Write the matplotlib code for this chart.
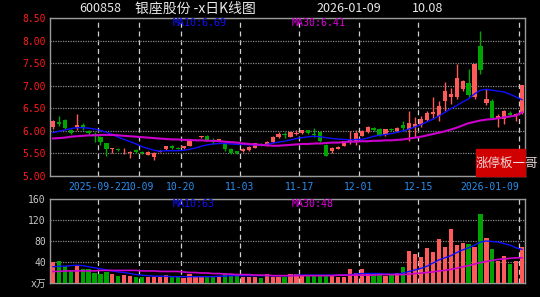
import matplotlib
matplotlib.use("Agg")
import matplotlib.pyplot as plt
from matplotlib.patches import Rectangle
import numpy as np

plt.rcParams['font.family'] = ['DejaVu Sans Mono', 'Noto Sans CJK SC']

# daily candles, 2025-09-10 .. 2026-01-09 (80 trading days)
opens = [6.08, 6.19, 6.25, 6.02, 6.08, 6.14, 5.99, 5.93, 5.87, 5.72,
         5.59, 5.60, 5.55, 5.52, 5.58, 5.54, 5.47, 5.41, 5.54, 5.60,
         5.66, 5.63, 5.62, 5.67, 5.81, 5.86, 5.88, 5.80, 5.78, 5.74,
         5.60, 5.55, 5.56, 5.58, 5.63, 5.71, 5.69, 5.75, 5.87, 5.93,
         5.87, 5.93, 5.95, 6.01, 5.93, 5.97, 5.69, 5.55, 5.60, 5.67,
         5.77, 5.75, 5.89, 5.97, 6.07, 6.05, 5.90, 6.05, 6.00, 6.12,
         6.04, 6.09, 6.12, 6.23, 6.38, 6.32, 6.66, 6.75, 6.76, 6.92,
         7.05, 6.74, 7.88, 6.61, 6.67, 6.27, 6.27, 6.40, 6.32, 6.40]
highs = [6.24, 6.32, 6.27, 6.04, 6.38, 6.17, 6.02, 5.97, 5.88, 5.73,
         5.63, 5.62, 5.63, 5.56, 5.60, 5.55, 5.55, 5.53, 5.57, 5.67,
         5.68, 5.65, 5.67, 5.79, 5.83, 5.89, 5.90, 5.84, 5.83, 5.75,
         5.62, 5.56, 5.61, 5.66, 5.73, 5.72, 5.77, 5.88, 5.97, 5.97,
         5.98, 6.02, 6.02, 6.02, 6.06, 5.98, 5.70, 5.64, 5.66, 5.78,
         6.00, 6.03, 6.02, 6.10, 6.09, 6.06, 6.05, 6.07, 6.09, 6.22,
         6.45, 6.30, 6.32, 6.45, 6.75, 6.67, 7.08, 6.95, 7.49, 7.12,
         7.36, 7.48, 8.22, 6.92, 6.70, 6.38, 6.46, 6.45, 6.40, 7.01]
lows = [6.05, 6.10, 6.05, 5.93, 6.03, 6.03, 5.90, 5.75, 5.68, 5.45,
        5.52, 5.55, 5.49, 5.40, 5.52, 5.48, 5.46, 5.35, 5.53, 5.58,
        5.60, 5.59, 5.60, 5.66, 5.79, 5.85, 5.79, 5.71, 5.77, 5.56,
        5.48, 5.49, 5.54, 5.56, 5.61, 5.67, 5.67, 5.74, 5.84, 5.84,
        5.86, 5.90, 5.94, 5.94, 5.87, 5.75, 5.44, 5.50, 5.59, 5.66,
        5.70, 5.68, 5.88, 5.95, 6.00, 5.88, 5.88, 5.99, 5.98, 6.00,
        5.78, 5.86, 6.08, 6.21, 6.26, 6.22, 6.45, 6.60, 6.70, 6.88,
        6.76, 6.70, 7.27, 6.58, 6.26, 6.08, 6.15, 6.33, 6.22, 6.38]
closes = [6.21, 6.16, 6.07, 5.96, 6.14, 6.07, 5.95, 5.89, 5.75, 5.60,
          5.62, 5.58, 5.56, 5.53, 5.54, 5.50, 5.54, 5.52, 5.56, 5.66,
          5.62, 5.60, 5.66, 5.78, 5.82, 5.88, 5.80, 5.75, 5.82, 5.60,
          5.50, 5.50, 5.60, 5.65, 5.72, 5.68, 5.76, 5.87, 5.93, 5.90,
          5.97, 5.96, 6.01, 5.95, 5.90, 5.77, 5.45, 5.63, 5.65, 5.77,
          5.80, 5.95, 6.00, 6.08, 6.02, 5.90, 6.04, 6.01, 6.07, 6.06,
          6.18, 6.15, 6.26, 6.39, 6.41, 6.54, 6.88, 6.81, 7.18, 7.10,
          6.79, 7.47, 7.34, 6.70, 6.28, 6.34, 6.44, 6.36, 6.37, 7.01]
volumes = [40, 42, 33, 22, 32, 26, 26, 19, 18, 21,
           17, 13, 15, 13, 12, 12, 12, 12, 12, 15,
           12, 12, 10, 17, 12, 12, 12, 12, 12, 20,
           17, 14, 12, 12, 12, 10, 17, 12, 12, 12,
           17, 17, 13, 16, 13, 13, 16, 13, 12, 12,
           27, 20, 27, 17, 17, 17, 13, 17, 20, 30,
           61, 55, 50, 67, 60, 84, 69, 103, 72, 76,
           74, 69, 132, 85, 65, 41, 51, 37, 41, 69]

ma10 = [5.96, 5.99, 6.02, 6.05, 6.07, 6.07, 6.06, 6.04, 6.01, 5.97,
        5.92, 5.86, 5.81, 5.76, 5.71, 5.65, 5.61, 5.57, 5.55, 5.56,
        5.56, 5.56, 5.57, 5.59, 5.62, 5.66, 5.69, 5.71, 5.72, 5.72,
        5.71, 5.70, 5.70, 5.69, 5.69, 5.68, 5.70, 5.73, 5.75, 5.77,
        5.80, 5.83, 5.85, 5.87, 5.88, 5.87, 5.85, 5.83, 5.82, 5.81,
        5.80, 5.81, 5.81, 5.84, 5.88, 5.90, 5.92, 5.94, 5.97, 6.00,
        6.04, 6.09, 6.14, 6.20, 6.26, 6.33, 6.41, 6.49, 6.56, 6.64,
        6.71, 6.82, 6.90, 6.92, 6.90, 6.88, 6.86, 6.81, 6.75, 6.69]
ma30 = [5.83, 5.84, 5.85, 5.87, 5.88, 5.89, 5.90, 5.90, 5.91, 5.91,
        5.91, 5.90, 5.89, 5.88, 5.87, 5.86, 5.85, 5.84, 5.83, 5.82,
        5.81, 5.81, 5.80, 5.80, 5.79, 5.79, 5.78, 5.78, 5.77, 5.76,
        5.75, 5.74, 5.72, 5.71, 5.70, 5.69, 5.68, 5.67, 5.67, 5.68,
        5.69, 5.70, 5.71, 5.71, 5.72, 5.72, 5.73, 5.74, 5.74, 5.75,
        5.76, 5.76, 5.77, 5.77, 5.78, 5.78, 5.79, 5.79, 5.80, 5.81,
        5.83, 5.85, 5.87, 5.90, 5.93, 5.96, 5.99, 6.03, 6.07, 6.12,
        6.17, 6.20, 6.23, 6.25, 6.26, 6.28, 6.30, 6.32, 6.34, 6.41]
vol_ma10 = [31, 32, 32, 33, 34, 33, 31, 29, 27, 25,
            23, 21, 20, 18, 16, 15, 14, 13, 13, 13,
            12, 12, 12, 12, 12, 12, 12, 12, 13, 13,
            14, 14, 14, 14, 14, 14, 14, 14, 14, 14,
            14, 15, 15, 15, 15, 15, 15, 15, 15, 15,
            16, 17, 18, 18, 18, 18, 17, 17, 17, 19,
            22, 25, 28, 32, 38, 44, 48, 52, 58, 63,
            67, 72, 78, 80, 79, 78, 75, 72, 67, 64]
vol_ma30 = [22, 22, 23, 23, 23, 23, 23, 23, 24, 24,
            24, 24, 24, 24, 24, 23, 23, 23, 22, 22,
            22, 22, 21, 20, 20, 19, 19, 18, 18, 17,
            17, 16, 16, 16, 15, 15, 15, 14, 14, 14,
            14, 14, 14, 14, 14, 14, 14, 14, 15, 15,
            15, 15, 15, 15, 15, 16, 16, 16, 16, 16,
            17, 18, 19, 20, 21, 23, 24, 26, 28, 31,
            33, 36, 39, 41, 43, 45, 46, 47, 48, 48]

tick_idx = [8, 15, 22, 32, 42, 52, 62, 79]
tick_labels = ["2025-09-22", "10-09", "10-20", "11-03", "11-17", "12-01", "12-15", "2026-01-09"]
price_ticks = [5.0, 5.5, 6.0, 6.5, 7.0, 7.5, 8.0, 8.5]
vol_ticks = [0, 40, 80, 120, 160]
vol_tick_labels = ["x万", "40", "80", "120", "160"]

UP = "#ff5a5a"
DOWN = "#00a400"
BLUE = "#1010ff"
MAG = "#cc00cc"
GRIDC = "#8a8a8a"
W, H = 540, 297

x = np.arange(len(closes))
o = np.array(opens); c = np.array(closes)
up = c >= o
cols = np.where(up, UP, DOWN)

fig = plt.figure(figsize=(5.4, 2.97), dpi=100, facecolor="black")
ax = fig.add_axes([50 / W, 1 - 176 / H, 475 / W, 158 / H], facecolor="black")
axv = fig.add_axes([50 / W, 1 - 283 / H, 475 / W, 84 / H], facecolor="black")

# price panel
ax.vlines(x, lows, highs, colors=cols, lw=1, zorder=3)
body = np.maximum(np.abs(c - o), 0.012)
ax.bar(x, body, bottom=np.minimum(o, c), width=0.72, color=cols, zorder=4)
ax.plot(x, ma10, color=BLUE, lw=1, zorder=5)
ax.plot(x, ma30, color=MAG, lw=1.5, zorder=5)
ax.set_ylim(5.0, 8.5)
ax.set_yticks(price_ticks)
ax.set_yticklabels(["%.2f" % v for v in price_ticks])

# volume panel
axv.bar(x, volumes, width=0.72, color=cols, zorder=3)
axv.plot(x, vol_ma10, color=BLUE, lw=1, zorder=4)
axv.plot(x, vol_ma30, color=MAG, lw=1.2, zorder=4)
axv.set_ylim(0, 160)
axv.set_yticks(vol_ticks)
axv.set_yticklabels(vol_tick_labels)

for a in (ax, axv):
    a.set_xlim(-0.5, len(closes) - 0.5)
    a.set_xticks([i - 0.5 for i in tick_idx])
    a.xaxis.grid(True, color="#d0d0d0", lw=0.9, linestyle=(0, (4, 3)))
    a.yaxis.grid(True, color=GRIDC, lw=0.9, linestyle=(0, (1, 1)))
    a.set_axisbelow(True)
    for s in a.spines.values():
        s.set_color("#9a9a9a")
        s.set_linewidth(1)
    a.tick_params(length=0, labelsize=7, pad=3)

ax.set_xticklabels(tick_labels, color="#2a8ff0", fontsize=7)
ax.get_xticklabels()[-1].set_horizontalalignment("right")
ax.tick_params(axis="x", pad=4)
ax.tick_params(axis="y", colors="#ff1a1a")
axv.set_xticklabels([])
axv.tick_params(axis="y", colors="#c8c8c8")

# header texts
fig.text(79 / W, 1 - 9 / H, "600858", color="#e8e8e8", fontsize=9,
         family=["Noto Sans CJK SC"], va="center")
fig.text(135 / W, 1 - 9 / H, "银座股份 -x日K线图", color="#e8e8e8", fontsize=10,
         family=["Noto Sans CJK SC"], va="center")
fig.text(316 / W, 1 - 9 / H, "2026-01-09", color="#e8e8e8", fontsize=9,
         family=["Noto Sans CJK SC"], va="center")
fig.text(412 / W, 1 - 9 / H, "10.08", color="#e8e8e8", fontsize=9,
         family=["Noto Sans CJK SC"], va="center")

fig.text(173 / W, 1 - 23 / H, "MA10:%.2f" % ma10[-1], color=BLUE, fontsize=7.2, va="center")
fig.text(292 / W, 1 - 23 / H, "MA30:%.2f" % ma30[-1], color="#e000e0", fontsize=7.2, va="center")
fig.text(173 / W, 1 - 204 / H, "MA10:63", color=BLUE, fontsize=7.2, va="center")
fig.text(292 / W, 1 - 204 / H, "MA30:%d" % vol_ma30[-1], color="#e000e0", fontsize=7.2, va="center")

# badge
fig.patches.append(Rectangle((476 / W, 1 - 176 / H), 49 / W, 27 / H,
                             transform=fig.transFigure, color="#d00000", zorder=10))
fig.text(476 / W, 1 - 163 / H, "涨停板一哥", color="#f0d8d8", fontsize=9,
         family=["Noto Sans CJK SC"], va="center", zorder=11)

fig.savefig("out.png", dpi=100, facecolor="black")
